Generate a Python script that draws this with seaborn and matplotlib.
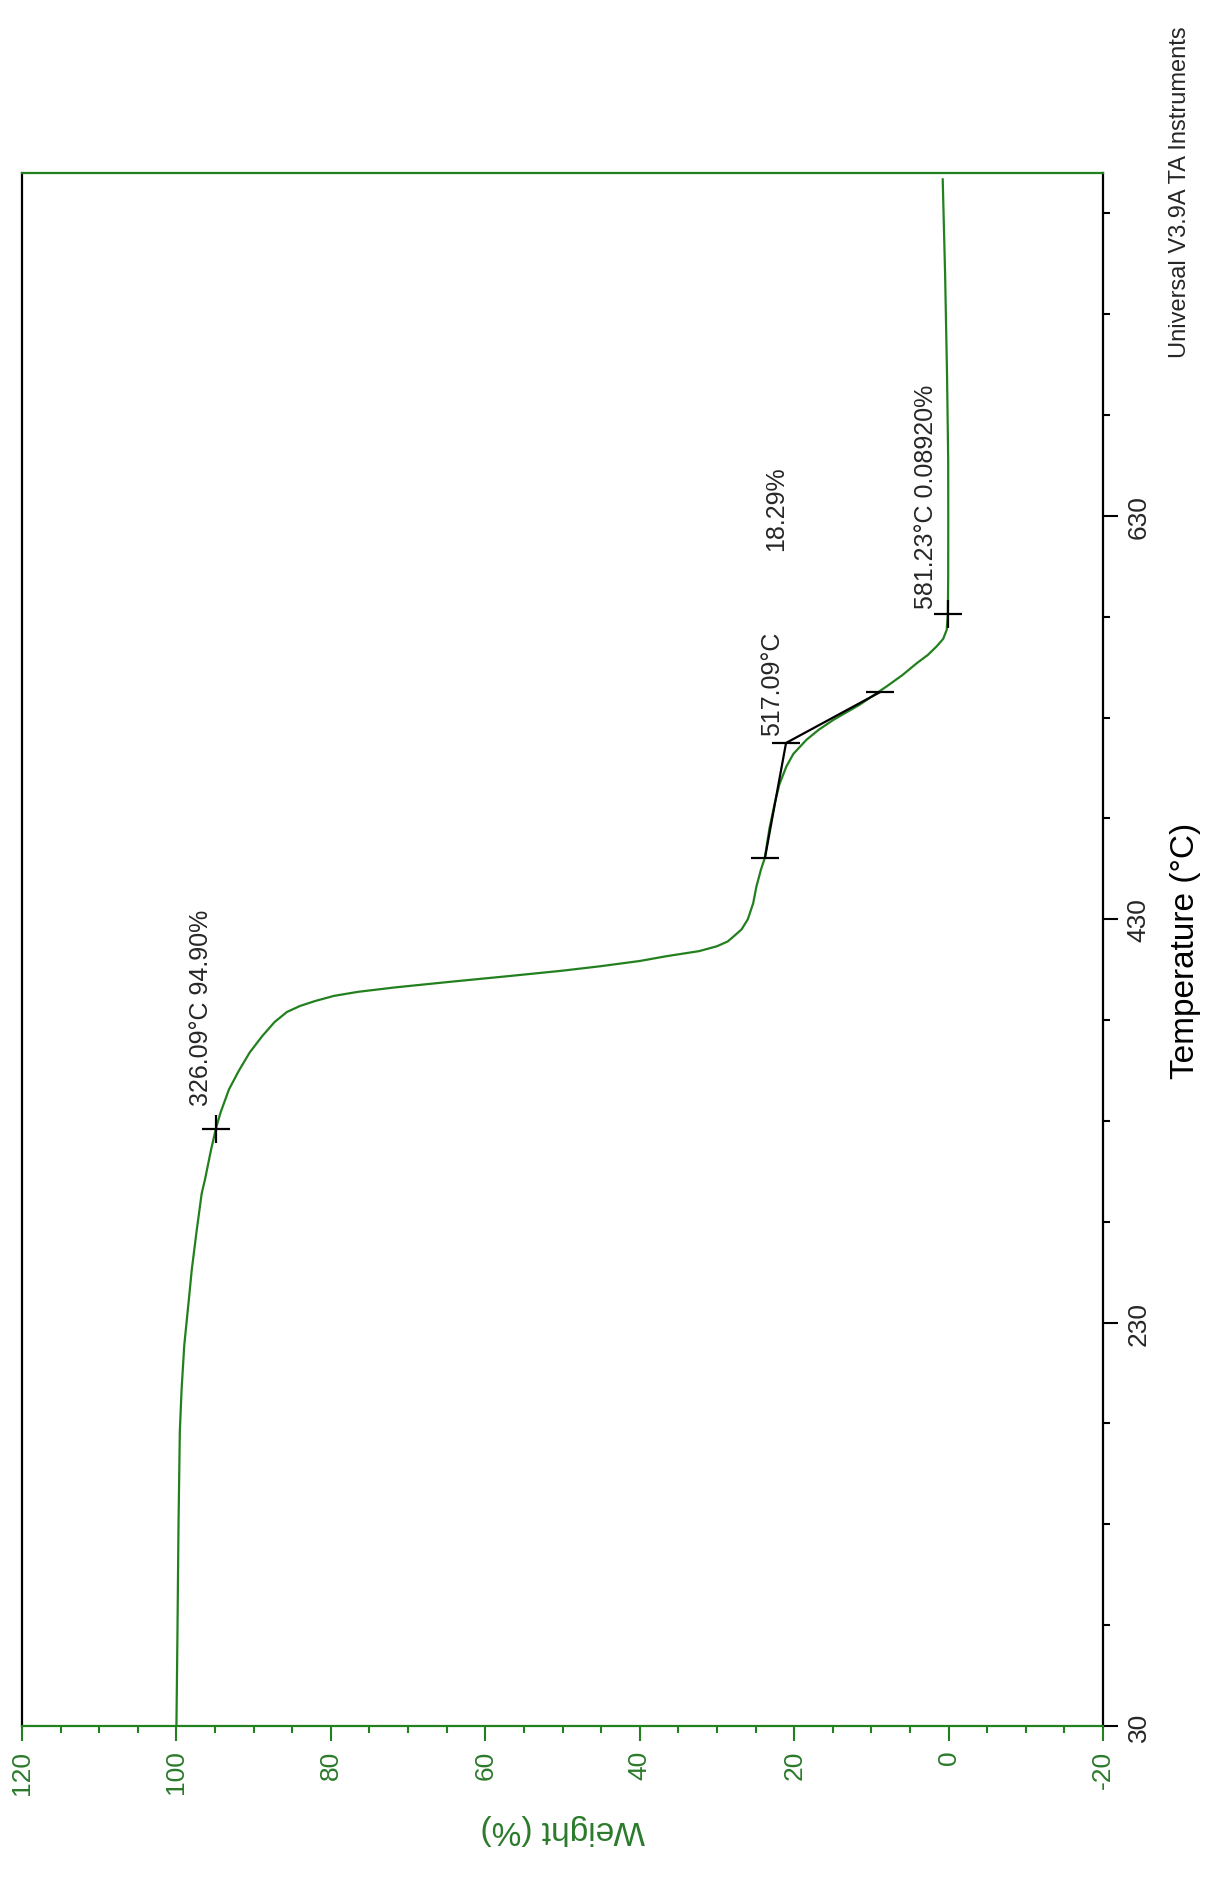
import numpy as np
import pandas as pd
import matplotlib
matplotlib.use("Agg")
import matplotlib.pyplot as plt
from matplotlib.ticker import MultipleLocator, FixedLocator
import seaborn as sns

temperature = [30, 75, 130, 176, 197, 219, 245, 256, 275, 294, 301, 316, 326, 334, 345.6,
               355, 364, 372, 379, 384, 387, 389.5, 392, 394, 396.2, 399, 401.8, 404.5,
               406.7, 409.3, 411.7, 414.2, 416.6, 419, 421.6, 425, 430, 438, 446, 454.6,
               460.4, 475, 487.7, 497, 505.8, 512, 519, 524, 528.9, 536.4, 545.5, 551, 557,
               561, 565.3, 569, 573.5, 581.2, 600, 628, 658, 700, 750, 797]
weight = [100.0, 99.87, 99.73, 99.56, 99.33, 98.98, 98.3, 98.02, 97.4, 96.73, 96.3, 95.5, 94.9,
          94.3, 93.2, 91.9, 90.5, 88.9, 87.3, 85.7, 84.0, 82.0, 79.6, 76.5, 71.7, 64.5, 57.0,
          50.0, 45.1, 40.0, 36.5, 32.3, 30.0, 28.6, 27.8, 26.8, 26.0, 25.3, 24.9, 24.3,
          23.8, 23.2, 22.5, 21.9, 21.0, 20.1, 18.4, 16.8, 14.9, 11.5, 8.0, 6.0, 4.1,
          2.7, 1.54, 0.7, 0.24, 0.09, 0.05, 0.04, 0.05, 0.2, 0.45, 0.76]

# step analysis (tangent construction)
step_temp = [460.4, 517.4, 542.6]
step_weight = [23.78, 21.05, 8.88]
cross_temp = [326.09, 581.23]
cross_weight = [94.90, 0.0892]

weight_ticks = [120, 100, 80, 60, 40, 20, 0, -20]
temp_ticks = [30, 230, 430, 630]

GREEN = '#23801f'
DARK_GREEN = '#2b7a2b'

df = pd.DataFrame({'Temperature': temperature, 'Weight': weight})

sns.set_style('white')
plt.rcParams['font.family'] = ['Liberation Sans', 'DejaVu Sans']
plt.rcParams['axes.unicode_minus'] = False

fig = plt.figure(figsize=(12.1, 18.83), dpi=100)
ax = fig.add_axes([22 / 1210, 156 / 1883, 1081 / 1210, 1553 / 1883])

sns.lineplot(data=df, x='Weight', y='Temperature', sort=False, estimator=None,
             color=GREEN, linewidth=1.6, ax=ax)
ax.plot(step_weight, step_temp, color='black', linewidth=1.6)
ax.plot(step_weight, step_temp, linestyle='none', marker='_', markersize=20,
        markeredgewidth=1.6, color='black')
ax.plot(cross_weight, cross_temp, linestyle='none', marker='+', markersize=20,
        markeredgewidth=1.6, color='black')

# annotations
ax.text(96.8, 338, '326.09°C 94.90%', rotation=90, ha='center', va='bottom', fontsize=18)
ax.text(22.86, 521.6, '517.09°C', rotation=90, ha='center', va='bottom', fontsize=18)
ax.text(22.35, 613, '18.29%', rotation=90, ha='center', va='bottom', fontsize=18)
ax.text(2.92, 584.5, '581.23°C 0.08920%', rotation=90, ha='center', va='bottom', fontsize=18)

ax.set_xlim(120, -20)
ax.set_ylim(30, 800)

ax.xaxis.set_major_locator(FixedLocator(weight_ticks))
ax.xaxis.set_minor_locator(MultipleLocator(5))
ax.set_xticklabels([str(t) for t in weight_ticks], rotation=90, color=DARK_GREEN, fontsize=19)
ax.yaxis.tick_right()
ax.yaxis.set_label_position('right')
ax.yaxis.set_major_locator(FixedLocator(temp_ticks))
ax.yaxis.set_minor_locator(FixedLocator(list(range(80, 800, 50))))
ax.set_yticklabels([str(t) for t in temp_ticks], rotation=90, va='center', fontsize=19)

ax.tick_params(axis='x', which='both', direction='out', color=GREEN, width=1.5, bottom=True, pad=6)
ax.tick_params(axis='x', which='major', length=11)
ax.tick_params(axis='x', which='minor', length=5)
ax.tick_params(axis='y', which='both', direction='out', color='black', width=1.5, right=True, left=False, pad=6)
ax.tick_params(axis='y', which='major', length=11)
ax.tick_params(axis='y', which='minor', length=5)

ax.set_xlabel('Weight (%)', rotation=180, color=DARK_GREEN, fontsize=24, labelpad=14)
ax.set_ylabel('Temperature (°C)', rotation=90, color='black', fontsize=24, labelpad=14)

for side in ['left', 'right']:
    ax.spines[side].set_color('black')
    ax.spines[side].set_linewidth(1.6)
for side in ['top', 'bottom']:
    ax.spines[side].set_color(GREEN)
    ax.spines[side].set_linewidth(1.6)

fig.text(1180 / 1210, 1 - 358 / 1883, 'Universal V3.9A TA Instruments', rotation=90,
         ha='center', va='bottom', fontsize=17)

fig.savefig('out.png', dpi=100)
